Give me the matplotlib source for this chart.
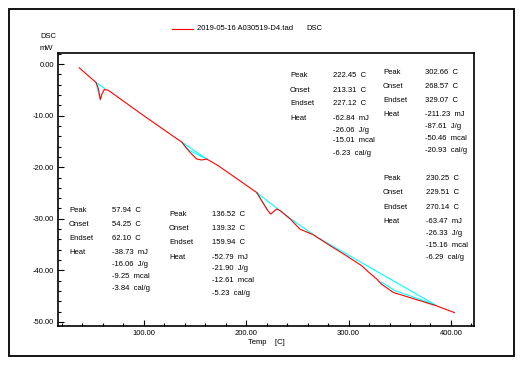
import matplotlib
matplotlib.use("Agg")
import matplotlib.pyplot as plt
from matplotlib.ticker import MultipleLocator, FormatStrFormatter
from matplotlib.patches import Rectangle

plt.rcParams['font.family'] = ['Liberation Sans', 'DejaVu Sans']
plt.rcParams['font.size'] = 5.5

# DSC curve (Temp in C, DSC in mW)
temp = [37.1, 53.4, 55.7, 57.4, 57.9, 59.0, 61.5, 65.4, 97.2, 128.9, 137.1,
        145.2, 151.7, 156.6, 161.5, 172.8, 210.3, 220.1, 224.0, 229.9, 233.1,
        242.9, 252.5, 265.6, 281.9, 298.2, 312.8, 319.3, 327.6, 332.3, 343.9,
        360.2, 376.5, 386.2, 403.4]
dsc = [-0.72, -3.56, -4.73, -6.6, -6.82, -5.9, -4.93, -5.06, -9.6, -14.0, -15.1,
       -17.1, -18.4, -18.6, -18.4, -19.7, -24.9, -28.1, -29.1, -28.1, -28.4,
       -30.0, -32.0, -33.1, -35.2, -37.2, -39.1, -40.3, -41.7, -42.7, -44.3,
       -45.3, -46.3, -46.9, -48.2]

# baselines / tangents drawn by the analysis software (cyan)
base_lines = [
    ([53.4, 62.2], [-3.56, -4.73]),
    ([53.4, 57.4], [-3.56, -6.9]),
    ([137.1, 161.5], [-15.1, -18.4]),
    ([137.1, 142.0, 161.5], [-15.1, -16.5, -18.4]),
    ([210.3, 241.3], [-24.9, -29.7]),
    ([210.3, 221.0], [-24.9, -28.3]),
    ([241.3, 268.8, 384.8], [-29.7, -33.5, -46.7]),
    ([332.3, 345.0, 384.8], [-42.3, -43.9, -46.7]),
]

# peak analysis results
peaks = ['57.94', '136.52', '222.45', '302.66', '230.25']
onsets = ['54.25', '139.32', '213.31', '268.57', '229.51']
endsets = ['62.10', '159.94', '227.12', '329.07', '270.14']
heat_mj = ['-38.73', '-52.79', '-62.84', '-211.23', '-63.47']
heat_jg = ['-16.06', '-21.90', '-26.06', '-87.61', '-26.33']
heat_mcal = ['-9.25', '-12.61', '-15.01', '-50.46', '-15.16']
heat_calg = ['-3.84', '-5.23', '-6.23', '-20.93', '-6.29']

W, H = 525, 365
fig = plt.figure(figsize=(W / 100, H / 100), dpi=100)
ax = fig.add_axes([58 / W, 1 - 326 / H, 416 / W, 272.7 / H])

ax.plot(temp, dsc, color='#ff0000', lw=0.8, zorder=3)
for xs, ys in base_lines:
    ax.plot(xs, ys, color='#00ffff', lw=0.8, zorder=2)

ax.set_xlim(16.3, 422.5)
ax.set_ylim(-50.8, 2.1)
ax.xaxis.set_major_locator(MultipleLocator(100))
ax.xaxis.set_minor_locator(MultipleLocator(20))
ax.yaxis.set_major_locator(MultipleLocator(10))
ax.yaxis.set_minor_locator(MultipleLocator(2))
ax.xaxis.set_major_formatter(FormatStrFormatter('%.2f'))
ax.yaxis.set_major_formatter(FormatStrFormatter('%.2f'))
ax.tick_params(which='both', direction='in', labelsize=5.5, width=0.8)
ax.tick_params(which='major', length=4, pad=3)
ax.tick_params(which='minor', length=2.5)
for s in ax.spines.values():
    s.set_linewidth(1.2)
ax.set_xlabel('Temp    [C]', fontsize=5.5, labelpad=1.5)


def px(x, y):
    return x / W, 1 - y / H


# outer frame
fig.patches.append(Rectangle(px(9, 356), 505 / W, 347 / H, transform=fig.transFigure,
                             fill=False, edgecolor='black', lw=1.3))

# legend and y label
fig.add_artist(plt.Line2D([172 / W, 193 / W], [1 - 29 / H] * 2, color='#ff0000', lw=0.8))
fig.text(*px(197, 29), '2019-05-16 A030519-D4.tad', va='center', ha='left')
fig.text(*px(306, 29), 'DSC', va='center', ha='left')
fig.text(*px(48, 37), 'DSC', va='center', ha='center')
fig.text(*px(46, 49), 'mW', va='center', ha='center')

# annotation blocks: (label x, value x, row ys)
block_pos = [
    (69, 112, [210.7, 224.7, 238.7, 252.7, 265, 276.5, 288.3]),
    (169, 212, [214.3, 229, 242.7, 257.3, 269, 280.3, 293.3]),
    (290, 333, [75.7, 90, 103.3, 118.7, 130, 140.7, 153.3]),
    (383, 425, [72.7, 86.7, 100.7, 114, 126.7, 139, 150]),
    (383, 426, [178.3, 192.7, 207.7, 221.7, 233.3, 245.7, 257.3]),
]
for i, (lx, vx, ys) in enumerate(block_pos):
    labels = ['Peak', 'Onset', 'Endset', 'Heat']
    values = [peaks[i] + '  C', onsets[i] + '  C', endsets[i] + '  C',
              heat_mj[i] + '  mJ', heat_jg[i] + '  J/g',
              heat_mcal[i] + '  mcal', heat_calg[i] + '  cal/g']
    for lab, y in zip(labels, ys[:4]):
        fig.text(*px(lx, y), lab, va='center', ha='left')
    for val, y in zip(values, ys):
        fig.text(*px(vx, y), val, va='center', ha='left')

fig.savefig('out.png', dpi=100)
